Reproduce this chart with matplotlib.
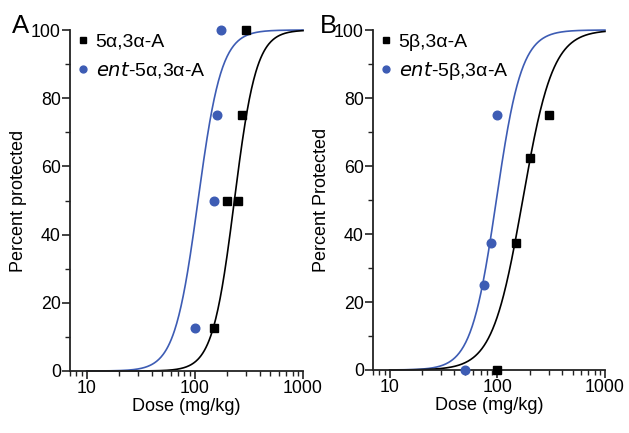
import numpy as np
import matplotlib
matplotlib.use('Agg')
import matplotlib.pyplot as plt
from matplotlib.ticker import LogLocator, NullFormatter, MultipleLocator, FixedLocator

plt.rcParams['font.family'] = ['Liberation Sans', 'DejaVu Sans']

BLUE = '#3d5cb4'

# Panel A data
a_black_dose = [150, 200, 250, 275, 300]
a_black_pct = [12.5, 50, 50, 75, 100]
a_blue_dose = [100, 150, 160, 175]
a_blue_pct = [12.5, 50, 75, 100]

# Panel B data
b_black_dose = [100, 150, 200, 300]
b_black_pct = [0, 37.5, 62.5, 75]
b_blue_dose = [50, 75, 88, 100]
b_blue_pct = [0, 25, 37.5, 75]

# fitted Hill curves: (ED50, slope)
a_black_fit = (232, 4.3)
a_blue_fit = (107, 4.0)
b_black_fit = (172, 3.1)
b_blue_fit = (98, 3.7)


def hill(x, ed50, n):
    return 100.0 / (1.0 + (ed50 / x) ** n)


def draw_panel(ax, black, blue, fits, labels, ylabel, letter, letter_x):
    xs = np.logspace(1, 3, 400)
    ax.plot(xs, hill(xs, *fits[1]), color=BLUE, lw=1.2, clip_on=False)
    ax.plot(xs, hill(xs, *fits[0]), color='black', lw=1.2, clip_on=False)
    ax.plot(black[0], black[1], 's', color='black', ms=5.2, ls='none',
            clip_on=False, zorder=5, label=labels[0])
    ax.plot(blue[0], blue[1], 'o', color=BLUE, ms=6.2, ls='none',
            clip_on=False, zorder=5, label=labels[1])

    ax.set_xscale('log')
    ax.set_xlim(7, 1000)
    ax.set_ylim(0, 100)
    ax.xaxis.set_major_locator(FixedLocator([10, 100, 1000]))
    ax.set_xticklabels(['10', '100', '1000'])
    ax.xaxis.set_minor_locator(LogLocator(base=10, subs=np.arange(2, 10)))
    ax.xaxis.set_minor_formatter(NullFormatter())
    ax.yaxis.set_major_locator(MultipleLocator(20))
    ax.yaxis.set_minor_locator(MultipleLocator(10))

    for s in ['top', 'right']:
        ax.spines[s].set_visible(False)
    for s in ['left', 'bottom']:
        ax.spines[s].set_linewidth(1.3)
        ax.spines[s].set_color('#222222')
    ax.tick_params(which='major', length=5.5, width=1.2, labelsize=12.8,
                   color='#222222', pad=1)
    ax.tick_params(which='minor', length=3.5, width=1.0, color='#222222')

    ax.set_xlabel('Dose (mg/kg)', fontsize=13, labelpad=1)
    ax.set_ylabel(ylabel, fontsize=13, labelpad=3)

    ax.legend(loc='upper left', bbox_to_anchor=(0.01, 1.005), frameon=False,
              fontsize=14, handlelength=0.6, handletextpad=0.35,
              borderaxespad=0.0, borderpad=0.25, labelspacing=0.48,
              markerscale=0.8)
    ax.text(letter_x, 0.99, letter, transform=ax.transAxes, fontsize=18.5,
            va='baseline', ha='left')


fig = plt.figure(figsize=(6.29, 4.33), dpi=100)
ax1 = fig.add_axes([0.1113, 0.1432, 0.3704, 0.7875])
ax2 = fig.add_axes([0.593, 0.1455, 0.3688, 0.7852])

draw_panel(ax1, (a_black_dose, a_black_pct), (a_blue_dose, a_blue_pct),
           (a_black_fit, a_blue_fit),
           ['5α,3α-A', r'$\it{ent}$-5α,3α-A'], 'Percent protected', 'A', -0.25)
draw_panel(ax2, (b_black_dose, b_black_pct), (b_blue_dose, b_blue_pct),
           (b_black_fit, b_blue_fit),
           ['5β,3α-A', r'$\it{ent}$-5β,3α-A'], 'Percent Protected', 'B', -0.23)

fig.savefig('out.png', dpi=100)
